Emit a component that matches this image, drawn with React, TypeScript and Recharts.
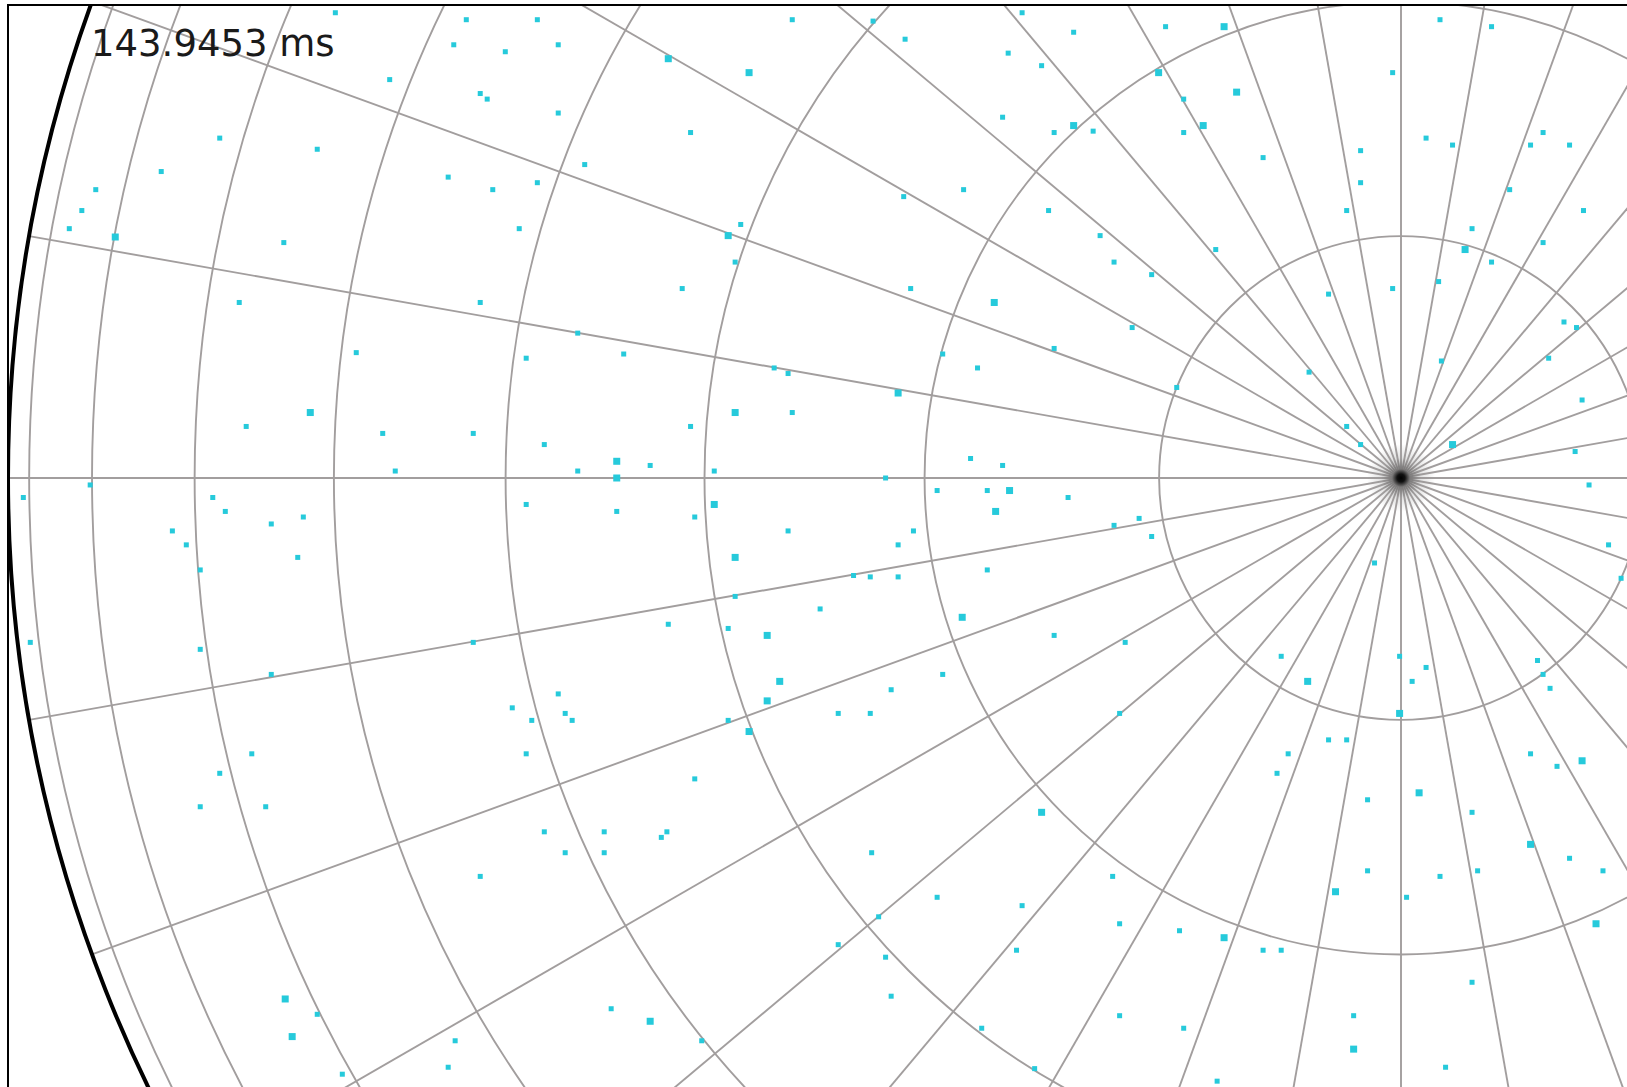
import { RadarChart, PolarGrid, ScatterChart, Scatter, XAxis, YAxis } from "recharts";

// axes box (inside the page) and the all-sky disc geometry, px
const BOX_LEFT = 8;
const BOX_TOP = 5;
const W = 1619;
const H = 1082;
const CX = 1393;
const CY = 473;
const HORIZON_R = 1393;

const TIME_LABEL = "143.9453 ms";

// azimuth spokes and altitude rings, degrees
const AZIMUTHS = [
  0, 10, 20, 30, 40, 50, 60, 70, 80, 90, 100, 110, 120, 130, 140, 150, 160, 170,
  180, 190, 200, 210, 220, 230, 240, 250, 260, 270, 280, 290, 300, 310, 320, 330, 340, 350,
];
const ALTITUDES = [10, 20, 30, 40, 50, 60, 70, 80];

// detected sources, direction cosines (l, m) x 1000
const FAINT_SOURCES: [number, number][] = [
  [-765, 334], [-671, 329], [-620, 329], [-680, 311], [-643, 306], [-726, 286], [-661, 276], [-656, 272],
  [-848, 244], [-778, 236], [-890, 220], [-937, 207], [-947, 192], [-956, 179], [-802, 169], [-684, 216],
  [-652, 207], [-620, 212], [-633, 179], [-834, 126], [-661, 126], [-750, 90], [-628, 86],
  [-605, 311], [-605, 262], [-586, 225], [-510, 248], [-437, 329], [-379, 328], [-356, 315], [-272, 334],
  [-235, 320], [-282, 305], [-258, 296], [-286, 259], [-249, 248], [-314, 207], [-357, 202], [-253, 192],
  [-474, 182], [-478, 155], [-516, 136], [-352, 136], [-591, 104], [-558, 89], [-329, 89], [-249, 93],
  [-169, 324], [-156, 272], [-156, 248], [-221, 249], [-99, 230], [-6, 291], [28, 329], [65, 324],
  [18, 244], [37, 239], [93, 239], [102, 248], [121, 239], [-29, 235], [-29, 212], [-39, 192], [78, 207],
  [131, 192], [51, 179], [65, 155], [102, 169], [27, 141], [-6, 136], [-52, 132], [-216, 174], [-206, 155],
  [-179, 146], [-133, 164], [-193, 108], [117, 112], [126, 108], [29, 84], [106, 86],
  [-829, 37], [-731, 32], [-666, 32], [-722, 5], [-941, -5], [-989, -14], [-853, -14], [-844, -24],
  [-811, -33], [-788, -28], [-882, -38], [-872, -48], [-792, -57], [-862, -66], [-628, -19], [-984, -118],
  [-862, -123], [-811, -141], [-666, -118], [-638, -165], [-624, -174],
  [-450, 79], [-440, 75], [-304, 79], [-437, 47], [-510, 37], [-615, 24], [-591, 5], [-539, 9], [-493, 5],
  [-370, 0], [-309, 14], [-286, 9], [-333, -9], [-297, -9], [-239, -14], [-563, -24], [-507, -28],
  [-440, -38], [-350, -38], [-361, -48], [-393, -70], [-381, -71], [-361, -71], [-297, -66], [-478, -85],
  [-417, -94], [-526, -105], [-483, -108], [-249, -113], [-329, -141], [-366, -152], [-605, -155],
  [-600, -169], [-595, -174], [-483, -174], [-404, -169], [-381, -169],
  [-66, 76], [-161, 65], [-39, 37], [-29, 24], [130, 56], [125, 19], [135, -5], [149, -48], [158, -72],
  [-206, -34], [-188, -29], [-179, -42], [-19, -61], [-198, -118], [-86, -128], [-1, -128], [18, -136],
  [8, -146], [98, -131], [102, -141], [107, -151], [-202, -169],
  [-825, -198], [-848, -212], [-862, -236], [-815, -236], [-628, -198], [-661, -286], [-778, -385],
  [-760, -428], [-679, -404], [-684, -423],
  [-507, -216], [-572, -254], [-572, -269], [-600, -269], [-615, -254], [-527, -254], [-531, -258],
  [-380, -269], [-333, -301], [-272, -307], [-375, -315], [-404, -335], [-370, -344], [-276, -339],
  [-366, -372], [-567, -381], [-502, -404], [-301, -395], [-263, -424],
  [-52, -188], [-39, -188], [-81, -198], [-89, -212], [-24, -231], [51, -240], [93, -198], [112, -207],
  [121, -273], [145, -282], [55, -282], [-24, -282], [28, -286], [4, -301], [-207, -286], [-202, -320],
  [-159, -325], [-99, -339], [-86, -339], [51, -362], [-34, -386], [32, -423], [-202, -386], [-156, -395],
  [-132, -433],
];

const BRIGHT_SOURCES: [number, number][] = [
  [-923, 173], [-526, 301], [-468, 291], [-235, 253], [-483, 174], [-292, 126], [-127, 324], [-174, 291],
  [-118, 277], [-142, 253], [46, 164], [-783, 47], [-361, 61], [-478, 47], [-563, 12], [-563, 0],
  [-281, -9], [-291, -24], [-493, -19], [-478, -57], [-455, -113], [-315, -100], [-446, -146],
  [-455, -160], [37, 24], [-67, -146], [-1, -169], [-801, -374], [-796, -401], [-468, -182], [-258, -240],
  [-539, -390], [13, -226], [130, -203], [93, -263], [-47, -297], [-127, -330], [140, -320], [-34, -410],
];

const toPoints = (list: [number, number][]) => list.map(([l, m]) => ({ l, m }));

// orthographic projection: ring radius = R cos(alt)
const ringRadii = ALTITUDES.map((alt) => HORIZON_R * Math.cos((alt * Math.PI) / 180));

// l/m extents covered by the box
const L_DOMAIN: [number, number] = [(-CX / HORIZON_R) * 1000, ((W - CX) / HORIZON_R) * 1000];
const M_DOMAIN: [number, number] = [(-(H - CY) / HORIZON_R) * 1000, (CY / HORIZON_R) * 1000];

const sourceShape = (size: number) => (props: any) => {
  const { cx, cy } = props;
  if (cx == null || cy == null) return <g />;
  return (
    <rect x={cx - size / 2} y={cy - size / 2} width={size} height={size} fill="#26cadb" />
  );
};

export default function App() {
  return (
    <div
      style={{
        position: "fixed",
        left: 0,
        top: 0,
        width: 1627,
        height: 1087,
        background: "#fff",
        overflow: "hidden",
      }}
    >
      <div
        style={{
          position: "absolute",
          left: BOX_LEFT,
          top: BOX_TOP,
          width: W,
          height: H,
          overflow: "hidden",
        }}
      >
        <div style={{ position: "absolute", left: 0, top: 0 }}>
          <RadarChart
            width={W}
            height={H}
            cx={CX}
            cy={CY}
            outerRadius={HORIZON_R}
            data={[]}
            margin={{ top: 0, right: 0, bottom: 0, left: 0 }}
          >
            <PolarGrid
              gridType="circle"
              polarAngles={AZIMUTHS}
              polarRadius={ringRadii}
              stroke="#a29e9e"
              strokeWidth={1.9}
            />
            <PolarGrid
              gridType="circle"
              radialLines={false}
              polarAngles={[]}
              polarRadius={[HORIZON_R]}
              stroke="#000"
              strokeWidth={4}
            />
          </RadarChart>
        </div>
        {/* spokes pile up into a dark knot at the zenith */}
        <div
          style={{
            position: "absolute",
            left: CX - 34,
            top: CY - 34,
            width: 68,
            height: 68,
            borderRadius: "50%",
            background:
              "radial-gradient(circle, #000 0px, #111 4px, rgba(90,90,90,0.55) 9px, rgba(150,150,150,0.28) 20px, rgba(200,200,200,0) 34px)",
          }}
        />
        <div style={{ position: "absolute", left: 0, top: 0 }}>
          <ScatterChart width={W} height={H} margin={{ top: 0, right: 0, bottom: 0, left: 0 }}>
            <XAxis type="number" dataKey="l" domain={L_DOMAIN} allowDataOverflow hide />
            <YAxis type="number" dataKey="m" domain={M_DOMAIN} allowDataOverflow hide />
            <Scatter data={toPoints(FAINT_SOURCES)} shape={sourceShape(5)} isAnimationActive={false} />
            <Scatter data={toPoints(BRIGHT_SOURCES)} shape={sourceShape(7)} isAnimationActive={false} />
          </ScatterChart>
        </div>
      </div>
      {/* axes frame: only the left and top spines fall inside the view */}
      <div
        style={{
          position: "absolute",
          left: BOX_LEFT - 1,
          top: BOX_TOP - 1,
          width: 2000,
          height: 2000,
          borderLeft: "2.5px solid #000",
          borderTop: "2.5px solid #000",
          pointerEvents: "none",
        }}
      />
      <div
        style={{
          position: "absolute",
          left: 91,
          top: 22,
          fontFamily: "'DejaVu Sans', sans-serif",
          fontSize: 37,
          lineHeight: "44px",
          color: "#1a1a1a",
          whiteSpace: "nowrap",
        }}
      >
        {TIME_LABEL}
      </div>
    </div>
  );
}
